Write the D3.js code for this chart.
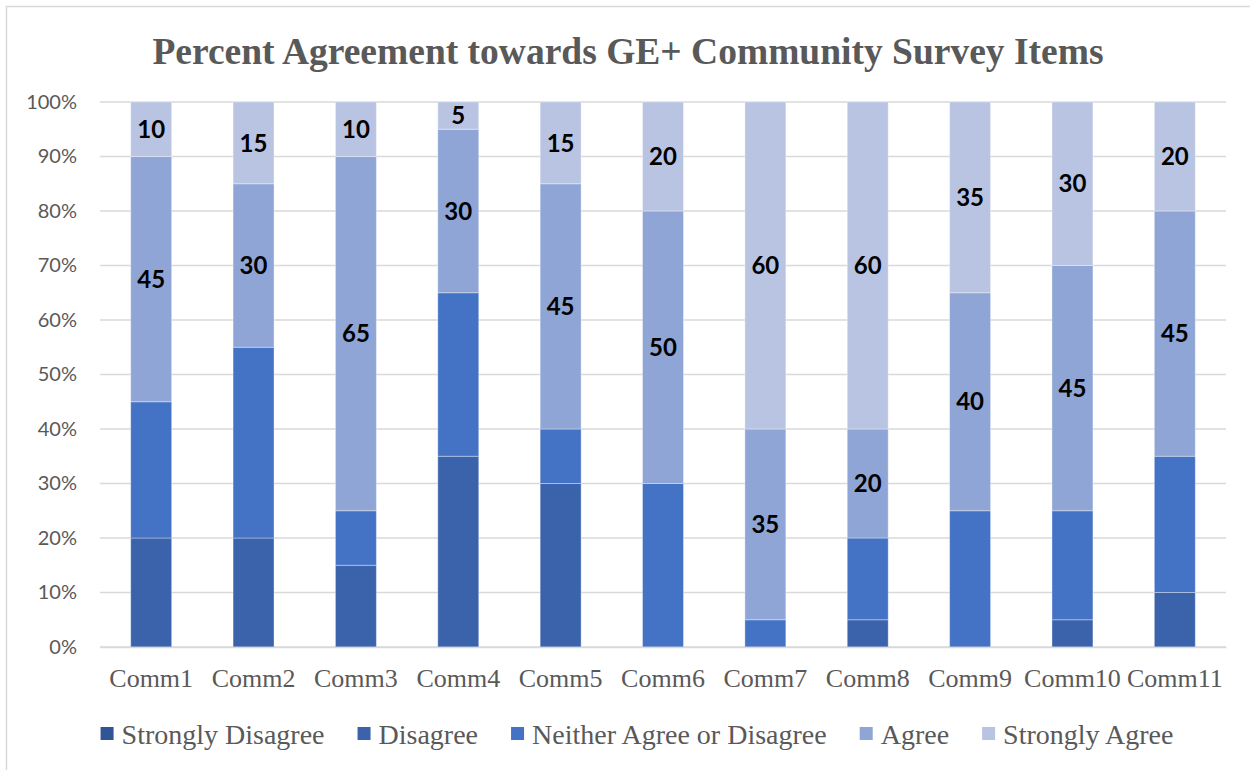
<!DOCTYPE html>
<html>
<head>
<meta charset="utf-8">
<script src="https://cdn.jsdelivr.net/npm/d3@7"></script>
<style>
  body { margin: 0; background: #fff; }
  svg { display: block; }
</style>
</head>
<body>
<div id="chart"></div>
<script>
const categories = ['Comm1', 'Comm2', 'Comm3', 'Comm4', 'Comm5', 'Comm6', 'Comm7', 'Comm8', 'Comm9', 'Comm10', 'Comm11'];
const seriesNames = ['Strongly Disagree', 'Disagree', 'Neither Agree or Disagree', 'Agree', 'Strongly Agree'];
const stronglyDisagree = [0, 0, 0, 0, 0, 0, 0, 0, 0, 0, 0];
const disagree = [20, 20, 15, 35, 30, 0, 0, 5, 0, 5, 10];
const neither = [25, 35, 10, 30, 10, 30, 5, 15, 25, 20, 25];
const agree = [45, 30, 65, 30, 45, 50, 35, 20, 40, 45, 45];
const stronglyAgree = [10, 15, 10, 5, 15, 20, 60, 60, 35, 30, 20];
const yTicks = [0, 0.1, 0.2, 0.3, 0.4, 0.5, 0.6, 0.7, 0.8, 0.9, 1];
const labelledSeries = ['Agree', 'Strongly Agree'];

const colours = ['#2f5597', '#3a63ac', '#4472c4', '#8fa5d6', '#b9c4e3'];

const config = {
  width: 1250,
  height: 770,
  margin: { top: 102, right: 24, bottom: 123, left: 100 }
};

const table = categories.map((c, i) => ({
  cat: c,
  'Strongly Disagree': stronglyDisagree[i],
  'Disagree': disagree[i],
  'Neither Agree or Disagree': neither[i],
  'Agree': agree[i],
  'Strongly Agree': stronglyAgree[i]
}));

const svg = d3.select('#chart').append('svg')
  .attr('width', config.width)
  .attr('height', config.height);

// outer frame of the chart box
svg.append('rect')
  .attr('x', 6.5).attr('y', 6.5)
  .attr('width', 1300).attr('height', 900)
  .attr('fill', 'none')
  .attr('stroke', '#d9d9d9')
  .attr('stroke-width', 1.5);

const innerW = config.width - config.margin.left - config.margin.right;
const innerH = config.height - config.margin.top - config.margin.bottom;

const chart = svg.append('g')
  .attr('transform', `translate(${config.margin.left},${config.margin.top})`);

const x = d3.scaleBand().domain(categories).range([0, innerW]).paddingInner(0.6).paddingOuter(0.3);
const y = d3.scaleLinear().domain([0, 1]).range([innerH, 0]);
const colour = d3.scaleOrdinal().domain(seriesNames).range(colours);

// gridlines
chart.append('g')
  .selectAll('line')
  .data(yTicks)
  .join('line')
  .attr('x1', 0).attr('x2', innerW)
  .attr('y1', d => y(d)).attr('y2', d => y(d))
  .attr('stroke', '#d9d9d9')
  .attr('stroke-width', 1.5);

// y axis
const yAxis = chart.append('g')
  .attr('transform', 'translate(-10,0)')
  .call(d3.axisLeft(y).tickValues(yTicks).tickFormat(d3.format('.0%')).tickSize(0).tickPadding(13));
yAxis.select('.domain').remove();
yAxis.selectAll('text')
  .attr('font-family', 'Lato, "Open Sans", sans-serif')
  .attr('font-size', 20)
  .attr('fill', '#595959');

// stacked bars
const stack = d3.stack().keys(seriesNames).offset(d3.stackOffsetExpand);
const layers = stack(table);

const layer = chart.selectAll('.layer')
  .data(layers)
  .join('g')
  .attr('class', 'layer')
  .attr('fill', d => colour(d.key));

layer.selectAll('rect')
  .data(d => d.map(v => ({ key: d.key, v })))
  .join('rect')
  .attr('x', d => x(d.v.data.cat))
  .attr('y', d => y(d.v[1]))
  .attr('width', x.bandwidth())
  .attr('height', d => y(d.v[0]) - y(d.v[1]))
  .attr('stroke', 'rgba(255,255,255,0.35)')
  .attr('stroke-width', 1);

// data labels
layer.filter(d => labelledSeries.includes(d.key))
  .selectAll('text')
  .data(d => d.map(v => ({ key: d.key, v })))
  .join('text')
  .attr('x', d => x(d.v.data.cat) + x.bandwidth() / 2)
  .attr('y', d => y((d.v[0] + d.v[1]) / 2))
  .attr('dy', '0.36em')
  .attr('text-anchor', 'middle')
  .attr('font-family', 'Lato, "Open Sans", sans-serif')
  .attr('font-weight', 'bold')
  .attr('font-size', 24)
  .attr('fill', '#000')
  .text(d => d.v.data[d.key]);

// x axis
const xAxis = chart.append('g')
  .attr('transform', `translate(0,${innerH})`)
  .call(d3.axisBottom(x).tickSize(0).tickPadding(22));
xAxis.select('.domain')
  .attr('stroke', '#d9d9d9')
  .attr('stroke-width', 1.5);
xAxis.selectAll('text')
  .attr('font-family', '"Liberation Serif", "Times New Roman", serif')
  .attr('font-size', 26)
  .attr('fill', '#595959');

// title
svg.append('text')
  .attr('x', 628)
  .attr('y', 64)
  .attr('text-anchor', 'middle')
  .attr('font-family', '"Liberation Serif", "Times New Roman", serif')
  .attr('font-weight', 'bold')
  .attr('font-size', 37.5)
  .attr('fill', '#595959')
  .text('Percent Agreement towards GE+ Community Survey Items');

// legend
const legend = svg.append('g').attr('transform', 'translate(0,744)');
const items = legend.selectAll('g')
  .data(seriesNames)
  .join('g');
items.append('rect')
  .attr('y', -17)
  .attr('width', 13).attr('height', 13)
  .attr('fill', d => colour(d));
items.append('text')
  .attr('x', 21)
  .attr('font-family', '"Liberation Serif", "Times New Roman", serif')
  .attr('font-size', 28)
  .attr('fill', '#595959')
  .text(d => d);

const gap = 33;
let widths = [];
items.each(function () { widths.push(this.getBBox().width); });
const total = d3.sum(widths) + gap * (widths.length - 1);
let cursor = 637 - total / 2;
items.attr('transform', (d, i) => {
  const t = `translate(${cursor},0)`;
  cursor += widths[i] + gap;
  return t;
});
</script>
</body>
</html>
